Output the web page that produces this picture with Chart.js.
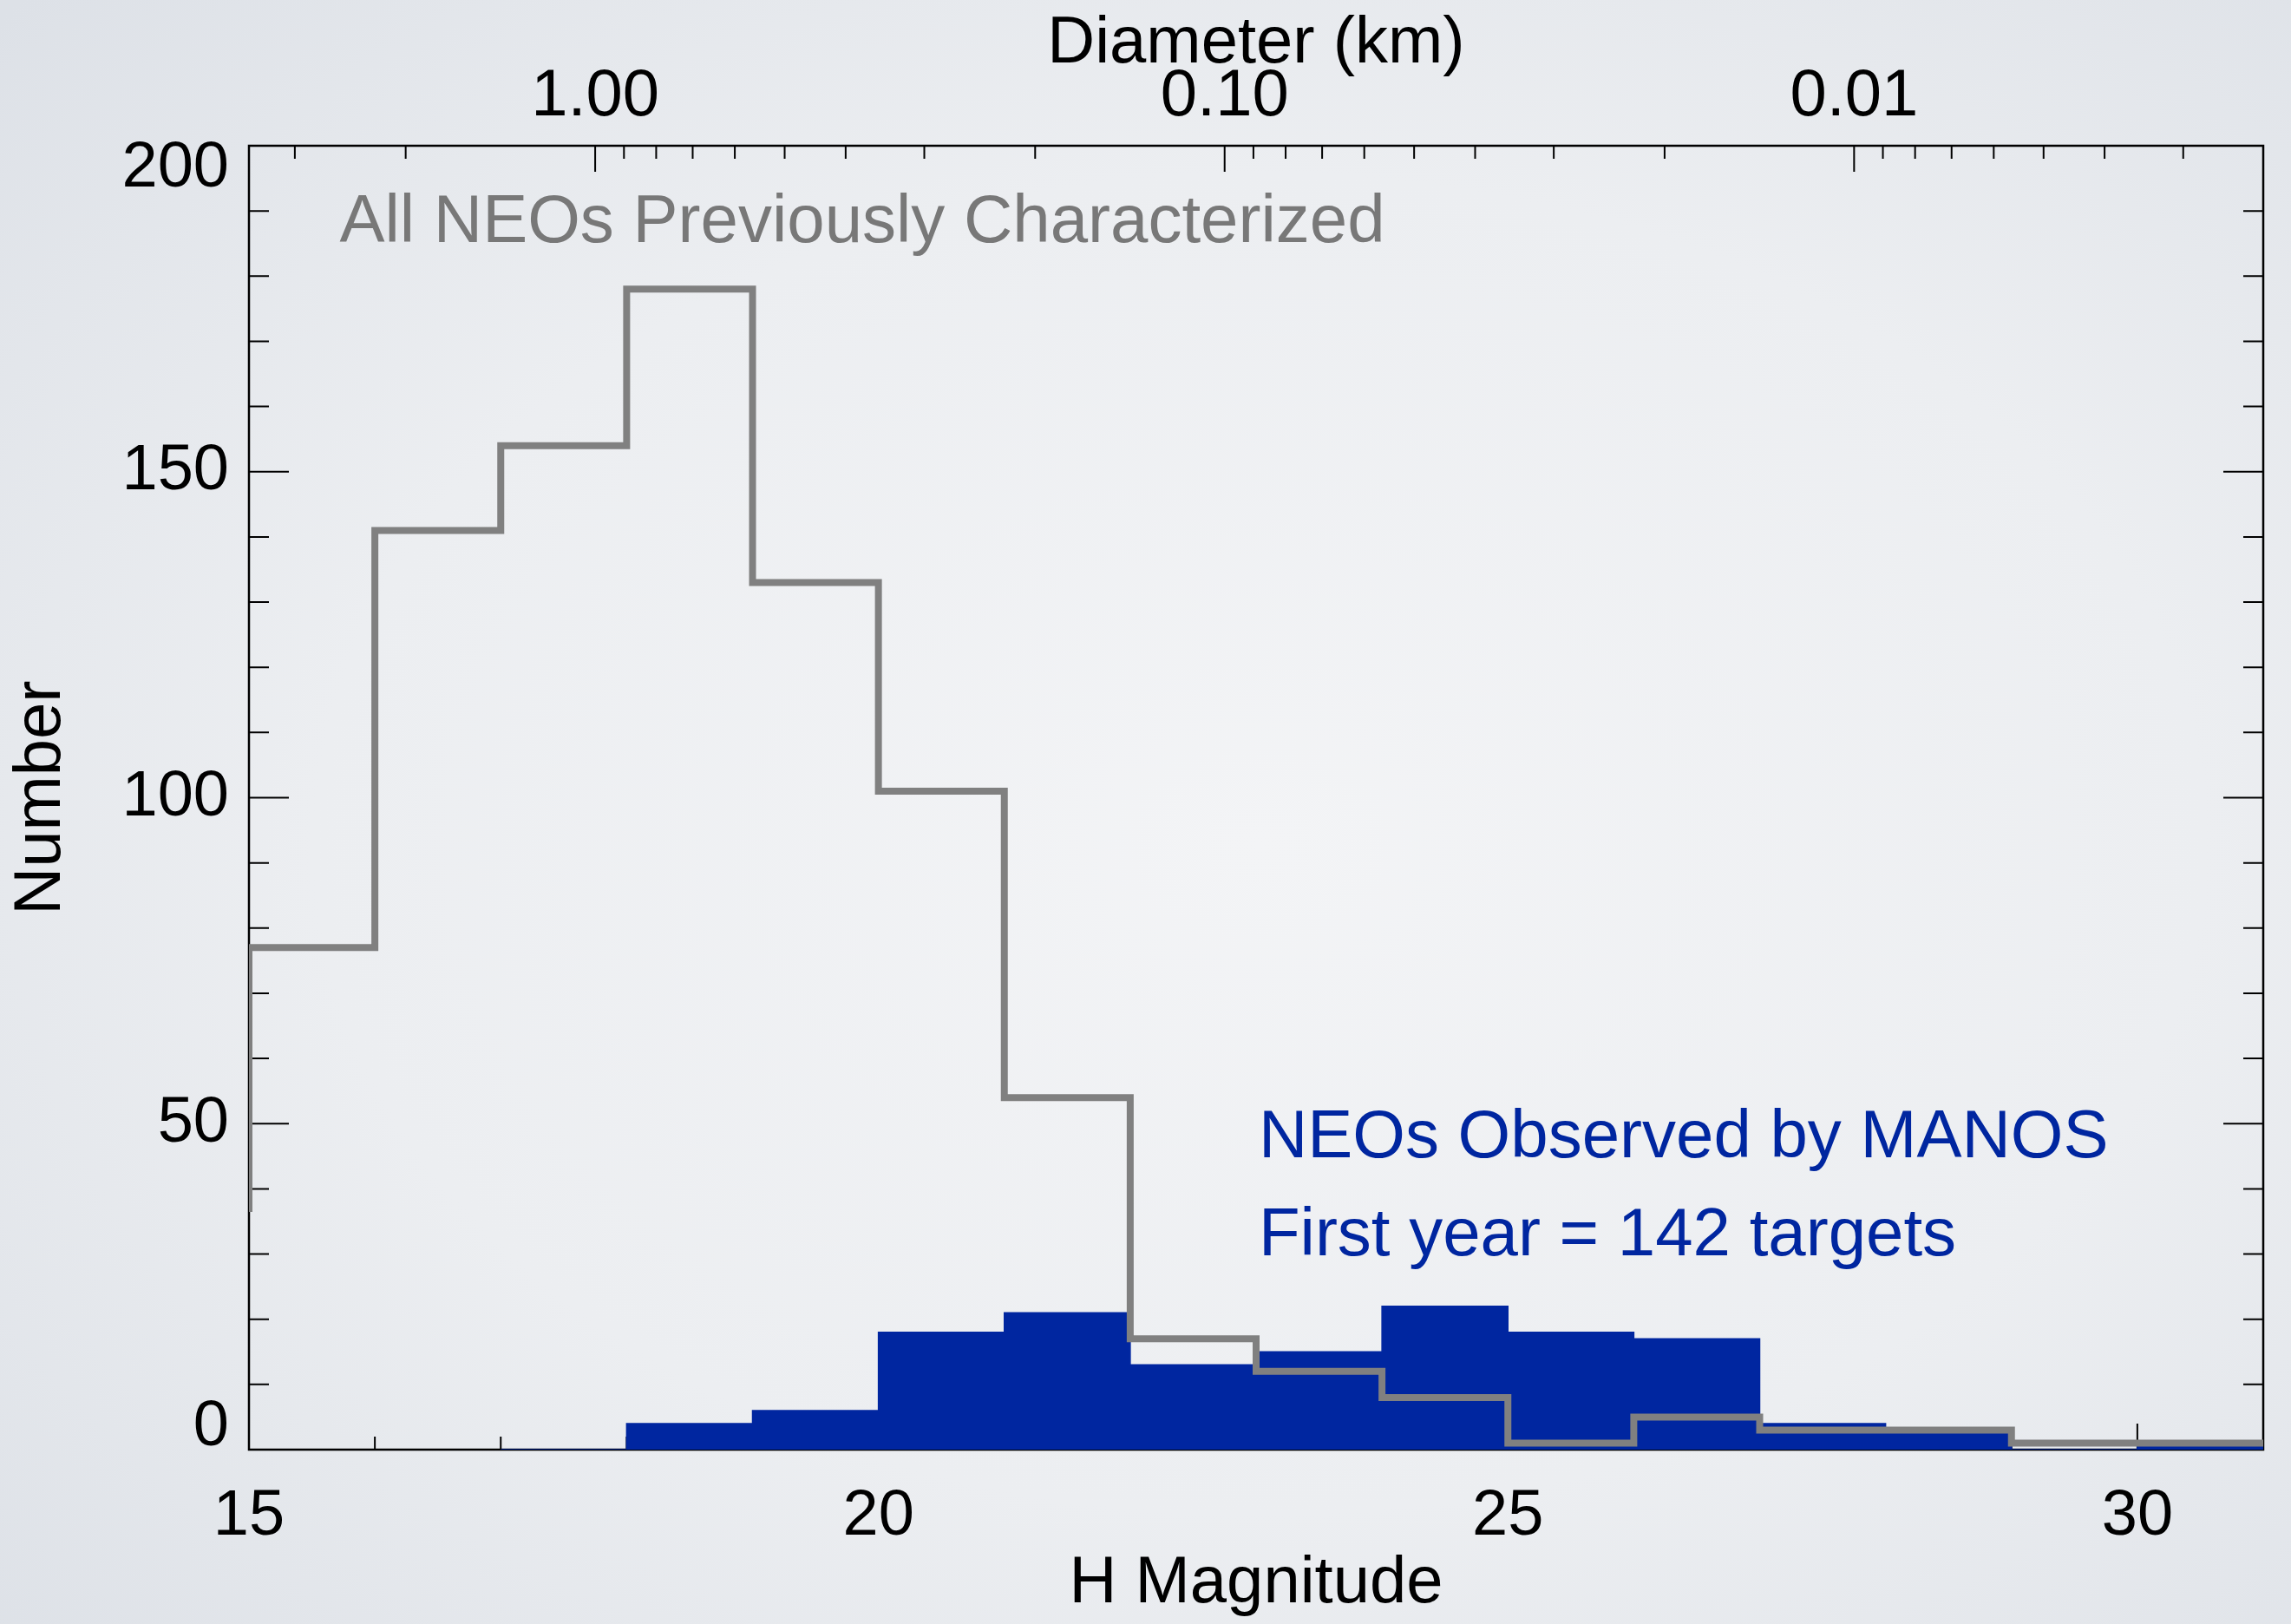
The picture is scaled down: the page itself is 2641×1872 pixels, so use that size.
<!DOCTYPE html>
<html>
<head>
<meta charset="utf-8">
<script src="https://cdn.jsdelivr.net/npm/chart.js@4.4.1/dist/chart.umd.min.js"></script>
<style>
  html, body { margin: 0; padding: 0; }
  body {
    width: 2641px; height: 1872px; overflow: hidden;
    background: radial-gradient(ellipse 75% 75% at 55% 52%, #f3f4f6 0%, #eceef1 55%, #dde1e7 100%);
  }
  #wrap { position: relative; width: 2641px; height: 1872px; }
</style>
</head>
<body>
<div id="wrap"><canvas id="neoChart"></canvas></div>
<script>
// H magnitude bins (left edge of each 1-mag bin)
const binStarts = [14, 15, 16, 17, 18, 19, 20, 21, 22, 23, 24, 25, 26, 27, 28, 29, 30];
const lastEdge = 31;
// all NEOs previously characterized (grey outline)
const previousCounts = [37, 77, 141, 154, 178, 133, 101, 54, 17, 12, 8, 1, 5, 3, 3, 1, 1];
// NEOs observed by MANOS in the first year (blue fill, 142 total)
const manosCounts = [null, null, null, 0, 4, 6, 18, 21, 13, 15, 22, 18, 17, 4, 3, 0, 1];

const hTicks = [15, 20, 25, 30];
const hMinorTicks = [16, 17, 18, 19, 21, 22, 23, 24, 26, 27, 28, 29, 31];
const countTicks = [0, 50, 100, 150, 200];
const countMinorTicks = [10, 20, 30, 40, 60, 70, 80, 90, 110, 120, 130, 140, 160, 170, 180, 190];
const diamTicks = [1.00, 0.10, 0.01];
const diamLabels = ['1.00', '0.10', '0.01'];
const diamMinorTicks = [3, 2, 0.9, 0.8, 0.7, 0.6, 0.5, 0.4, 0.3, 0.2,
  0.09, 0.08, 0.07, 0.06, 0.05, 0.04, 0.03, 0.02,
  0.009, 0.008, 0.007, 0.006, 0.005, 0.004, 0.003];

// diameter (km) -> H for albedo ~0.14 (D = 1 km at H = 17.75)
const hFromDiam = (d) => 17.75 - 5 * Math.log10(d);

const toSteps = (counts) => {
  const pts = binStarts.map((x, i) => ({ x, y: counts[i] }));
  pts.push({ x: lastEdge, y: counts[counts.length - 1] });
  return pts;
};

const FONT = "'Liberation Sans', Arial, Helvetica, sans-serif";
Chart.defaults.font.family = FONT;
Chart.defaults.color = '#000';

const BLUE = 'rgb(0, 38, 160)';
const GREY = 'rgb(128, 128, 128)';

const boxTicks = {
  id: 'boxTicks',
  beforeDatasetsDraw(chart) {
    const { ctx, chartArea: a, scales } = chart;
    const x = scales.x, y = scales.y;
    ctx.save();
    ctx.strokeStyle = '#000';
    ctx.lineWidth = 2;
    ctx.beginPath();
    hTicks.forEach(v => {
      const px = x.getPixelForValue(v);
      ctx.moveTo(px, a.bottom); ctx.lineTo(px, a.bottom - 30);
    });
    hMinorTicks.forEach(v => {
      const px = x.getPixelForValue(v);
      ctx.moveTo(px, a.bottom); ctx.lineTo(px, a.bottom - 15);
    });
    diamTicks.forEach(d => {
      const px = x.getPixelForValue(hFromDiam(d));
      ctx.moveTo(px, a.top); ctx.lineTo(px, a.top + 30);
    });
    diamMinorTicks.forEach(d => {
      const px = x.getPixelForValue(hFromDiam(d));
      ctx.moveTo(px, a.top); ctx.lineTo(px, a.top + 15);
    });
    countTicks.forEach(v => {
      const py = y.getPixelForValue(v);
      ctx.moveTo(a.left, py); ctx.lineTo(a.left + 46, py);
      ctx.moveTo(a.right, py); ctx.lineTo(a.right - 46, py);
    });
    countMinorTicks.forEach(v => {
      const py = y.getPixelForValue(v);
      ctx.moveTo(a.left, py); ctx.lineTo(a.left + 23, py);
      ctx.moveTo(a.right, py); ctx.lineTo(a.right - 23, py);
    });
    ctx.stroke();
    ctx.lineWidth = 2.5;
    ctx.strokeRect(a.left, a.top, a.right - a.left, a.bottom - a.top);

    // y tick labels, kept inside the axis span like the original
    ctx.fillStyle = '#000';
    ctx.font = '74px ' + FONT;
    ctx.textAlign = 'right';
    ctx.textBaseline = 'middle';
    countTicks.forEach(v => {
      let py = y.getPixelForValue(v);
      py = Math.min(Math.max(py, a.top + 27), a.bottom - 25);
      ctx.fillText(String(v), a.left - 23, py);
    });
    ctx.restore();
  },
  afterDatasetsDraw(chart) {
    const { ctx, scales } = chart;
    const x = scales.x, y = scales.y;
    ctx.save();
    ctx.textAlign = 'left';
    ctx.textBaseline = 'alphabetic';
    ctx.font = '78px ' + FONT;
    ctx.fillStyle = 'rgb(120, 120, 120)';
    ctx.fillText('All NEOs Previously Characterized', x.getPixelForValue(15.72), y.getPixelForValue(185.2));
    ctx.fillStyle = BLUE;
    ctx.fillText('NEOs Observed by MANOS', x.getPixelForValue(23.02), y.getPixelForValue(44.8));
    ctx.fillText('First year = 142 targets', x.getPixelForValue(23.02), y.getPixelForValue(29.8));
    ctx.restore();
  }
};

const ctx = document.getElementById('neoChart').getContext('2d');
new Chart(ctx, {
  type: 'line',
  data: {
    datasets: [
      {
        label: 'All NEOs Previously Characterized',
        data: toSteps(previousCounts),
        stepped: 'before',
        borderColor: GREY,
        borderWidth: 8,
        pointRadius: 0,
        fill: false,
        order: 1
      },
      {
        label: 'NEOs Observed by MANOS',
        data: toSteps(manosCounts),
        stepped: 'before',
        borderColor: BLUE,
        backgroundColor: BLUE,
        borderWidth: 1.5,
        pointRadius: 0,
        fill: 'origin',
        order: 2
      }
    ]
  },
  options: {
    responsive: true,
    maintainAspectRatio: false,
    animation: false,
    layout: { padding: { left: 0, right: 32, top: 0, bottom: 0 } },
    plugins: {
      legend: { display: false },
      tooltip: { enabled: false }
    },
    scales: {
      x: {
        type: 'linear',
        position: 'bottom',
        min: 15,
        max: 31,
        afterBuildTicks: (s) => { s.ticks = hTicks.map(v => ({ value: v })); },
        afterFit: (s) => { s.height = 201; },
        grid: { display: false },
        border: { display: false },
        ticks: { padding: 25, font: { size: 74 }, color: '#000', maxRotation: 0 },
        title: { display: true, text: 'H Magnitude', font: { size: 76 }, color: '#000', padding: { top: 0, bottom: 0 } }
      },
      xTop: {
        type: 'linear',
        position: 'top',
        min: 15,
        max: 31,
        afterBuildTicks: (s) => { s.ticks = diamTicks.map(d => ({ value: hFromDiam(d) })); },
        afterFit: (s) => { s.height = 168; },
        grid: { display: false },
        border: { display: false },
        ticks: {
          padding: 2,
          font: { size: 76 },
          color: '#000',
          maxRotation: 0,
          callback: (v, i) => diamLabels[i]
        },
        title: { display: true, text: 'Diameter (km)', font: { size: 76 }, color: '#000', padding: { top: 5, bottom: 0 } }
      },
      y: {
        type: 'linear',
        min: 0,
        max: 200,
        afterFit: (s) => { s.width = 287; },
        grid: { display: false },
        border: { display: false },
        ticks: { display: false },
        title: { display: true, text: 'Number', font: { size: 76 }, color: '#000', padding: { top: 2, bottom: 0 } }
      }
    }
  },
  plugins: [boxTicks]
});
</script>
</body>
</html>
